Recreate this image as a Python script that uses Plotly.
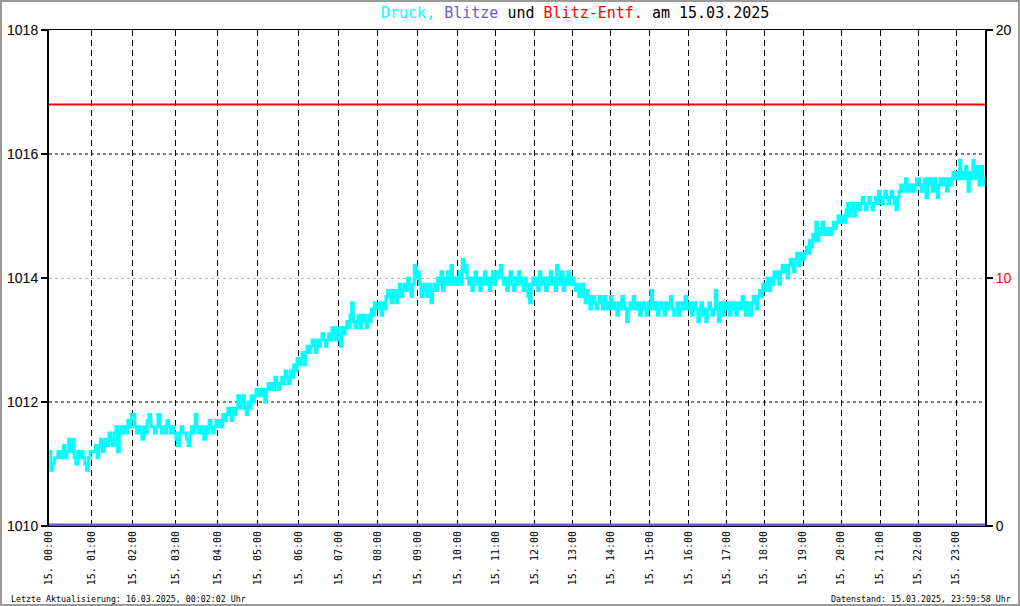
import plotly.graph_objects as go

# ---------------- data ----------------
# number of logged samples in each hour (the x axis is the sample index)
samples_per_hour = [43, 41, 43, 42, 40, 41, 40, 39, 40, 40, 38, 39,
                    38, 38, 39, 39, 38, 38, 39, 38, 39, 38, 38, 29]
hour_labels = ["15. %02d:00" % h for h in range(24)]

# pressure (hPa), 24 readings per hour
druck = [
    [1011.2, 1010.9, 1011.0, 1011.1, 1011.1, 1011.2, 1011.1, 1011.1, 1011.3, 1011.1, 1011.2, 1011.4, 1011.2, 1011.4, 1011.1, 1011.0, 1011.2, 1011.1, 1011.2, 1011.1, 1011.0, 1010.9, 1011.1, 1011.2],
    [1011.2, 1011.2, 1011.3, 1011.1, 1011.3, 1011.4, 1011.2, 1011.3, 1011.4, 1011.3, 1011.5, 1011.4, 1011.3, 1011.5, 1011.6, 1011.2, 1011.5, 1011.6, 1011.5, 1011.6, 1011.5, 1011.7, 1011.6, 1011.8],
    [1011.8, 1011.6, 1011.5, 1011.6, 1011.5, 1011.4, 1011.6, 1011.5, 1011.7, 1011.8, 1011.6, 1011.6, 1011.5, 1011.6, 1011.8, 1011.6, 1011.5, 1011.6, 1011.5, 1011.7, 1011.6, 1011.5, 1011.6, 1011.5],
    [1011.4, 1011.3, 1011.5, 1011.6, 1011.5, 1011.5, 1011.4, 1011.3, 1011.5, 1011.6, 1011.5, 1011.8, 1011.6, 1011.5, 1011.6, 1011.5, 1011.4, 1011.6, 1011.5, 1011.7, 1011.6, 1011.5, 1011.6, 1011.7],
    [1011.6, 1011.7, 1011.6, 1011.8, 1011.7, 1011.8, 1011.9, 1011.8, 1011.7, 1011.9, 1011.8, 1011.9, 1012.1, 1011.9, 1012.0, 1012.1, 1011.9, 1011.8, 1012.0, 1011.9, 1012.1, 1012.0, 1012.1, 1012.2],
    [1012.1, 1012.2, 1012.1, 1012.2, 1012.0, 1012.2, 1012.3, 1012.2, 1012.3, 1012.2, 1012.4, 1012.3, 1012.2, 1012.3, 1012.4, 1012.3, 1012.5, 1012.4, 1012.3, 1012.5, 1012.4, 1012.6, 1012.5, 1012.7],
    [1012.6, 1012.7, 1012.8, 1012.6, 1012.8, 1012.9, 1012.8, 1012.9, 1013.0, 1012.9, 1012.8, 1013.0, 1012.9, 1013.0, 1013.1, 1013.0, 1012.9, 1013.0, 1013.1, 1013.0, 1013.2, 1013.1, 1013.0, 1013.2],
    [1013.1, 1012.9, 1013.2, 1013.1, 1013.2, 1013.3, 1013.2, 1013.4, 1013.6, 1013.3, 1013.2, 1013.3, 1013.4, 1013.2, 1013.3, 1013.4, 1013.3, 1013.2, 1013.4, 1013.3, 1013.5, 1013.4, 1013.6, 1013.5],
    [1013.5, 1013.6, 1013.4, 1013.6, 1013.5, 1013.7, 1013.8, 1013.7, 1013.6, 1013.8, 1013.7, 1013.6, 1013.8, 1013.9, 1013.7, 1013.8, 1013.9, 1013.8, 1014.0, 1013.9, 1013.7, 1013.9, 1014.2, 1014.0],
    [1014.1, 1013.9, 1013.7, 1013.8, 1013.9, 1013.7, 1013.8, 1013.9, 1013.6, 1013.8, 1013.9, 1013.8, 1014.0, 1013.9, 1014.1, 1013.8, 1014.0, 1013.9, 1014.1, 1013.9, 1014.2, 1013.9, 1014.0, 1013.9],
    [1014.0, 1014.1, 1013.9, 1014.3, 1014.1, 1014.2, 1014.0, 1013.9, 1014.0, 1013.8, 1014.0, 1014.1, 1013.9, 1014.0, 1013.8, 1014.0, 1013.9, 1014.1, 1013.9, 1014.0, 1013.8, 1014.0, 1014.1, 1013.9],
    [1014.1, 1014.0, 1014.1, 1014.2, 1014.0, 1013.9, 1014.0, 1013.8, 1014.0, 1014.1, 1013.9, 1013.8, 1014.0, 1013.9, 1014.1, 1014.0, 1013.9, 1013.8, 1014.0, 1013.9, 1013.7, 1013.6, 1013.9, 1014.0],
    [1013.9, 1014.0, 1013.8, 1014.1, 1013.9, 1014.0, 1013.9, 1013.8, 1014.0, 1013.9, 1014.1, 1013.9, 1014.0, 1013.8, 1014.2, 1014.0, 1013.9, 1014.1, 1013.8, 1014.0, 1013.9, 1014.1, 1014.0, 1013.9],
    [1014.0, 1013.9, 1013.8, 1013.9, 1013.7, 1013.8, 1013.9, 1013.7, 1013.6, 1013.8, 1013.7, 1013.5, 1013.6, 1013.7, 1013.6, 1013.5, 1013.6, 1013.7, 1013.6, 1013.5, 1013.7, 1013.6, 1013.5, 1013.6],
    [1013.7, 1013.5, 1013.6, 1013.5, 1013.4, 1013.6, 1013.5, 1013.7, 1013.6, 1013.5, 1013.3, 1013.5, 1013.6, 1013.5, 1013.7, 1013.6, 1013.5, 1013.6, 1013.4, 1013.5, 1013.6, 1013.5, 1013.4, 1013.6],
    [1013.5, 1013.8, 1013.6, 1013.5, 1013.6, 1013.4, 1013.5, 1013.6, 1013.5, 1013.4, 1013.6, 1013.5, 1013.6, 1013.7, 1013.5, 1013.4, 1013.5, 1013.6, 1013.4, 1013.5, 1013.6, 1013.5, 1013.7, 1013.5],
    [1013.5, 1013.6, 1013.4, 1013.5, 1013.6, 1013.5, 1013.3, 1013.5, 1013.6, 1013.4, 1013.5, 1013.3, 1013.5, 1013.6, 1013.5, 1013.4, 1013.5, 1013.8, 1013.5, 1013.3, 1013.6, 1013.5, 1013.4, 1013.6],
    [1013.5, 1013.6, 1013.4, 1013.6, 1013.5, 1013.6, 1013.4, 1013.5, 1013.6, 1013.5, 1013.7, 1013.6, 1013.4, 1013.6, 1013.5, 1013.4, 1013.6, 1013.7, 1013.6, 1013.5, 1013.7, 1013.8, 1013.7, 1013.9],
    [1013.8, 1013.9, 1014.0, 1013.8, 1014.0, 1013.9, 1014.1, 1014.0, 1014.1, 1013.9, 1014.1, 1014.2, 1014.1, 1014.2, 1014.0, 1014.2, 1014.3, 1014.2, 1014.1, 1014.3, 1014.4, 1014.2, 1014.3, 1014.4],
    [1014.3, 1014.4, 1014.5, 1014.4, 1014.6, 1014.5, 1014.7, 1014.6, 1014.9, 1014.6, 1014.7, 1014.8, 1014.9, 1014.7, 1014.8, 1014.7, 1014.8, 1014.7, 1014.8, 1014.9, 1014.8, 1014.9, 1015.0, 1014.9],
    [1014.9, 1015.0, 1014.9, 1015.1, 1015.2, 1015.0, 1015.1, 1015.2, 1015.0, 1015.1, 1015.2, 1015.1, 1015.2, 1015.3, 1015.2, 1015.1, 1015.2, 1015.3, 1015.2, 1015.1, 1015.2, 1015.3, 1015.2, 1015.4],
    [1015.3, 1015.2, 1015.3, 1015.4, 1015.3, 1015.2, 1015.3, 1015.4, 1015.3, 1015.2, 1015.1, 1015.3, 1015.4, 1015.5, 1015.4, 1015.5, 1015.6, 1015.4, 1015.5, 1015.4, 1015.5, 1015.4, 1015.5, 1015.6],
    [1015.6, 1015.5, 1015.4, 1015.5, 1015.6, 1015.3, 1015.5, 1015.6, 1015.5, 1015.4, 1015.6, 1015.5, 1015.3, 1015.5, 1015.6, 1015.5, 1015.6, 1015.5, 1015.4, 1015.6, 1015.5, 1015.6, 1015.7, 1015.6],
    [1015.7, 1015.6, 1015.7, 1015.9, 1015.6, 1015.7, 1015.6, 1015.7, 1015.8, 1015.6, 1015.4, 1015.7, 1015.6, 1015.7, 1015.9, 1015.7, 1015.6, 1015.8, 1015.6, 1015.5, 1015.7, 1015.8, 1015.6, 1015.5],
]
blitze = [0, 0]          # lightning count
blitz_entf = [17, 17]    # lightning distance (km)

left_ticks = [1010, 1012, 1014, 1016, 1018]
left_grid = [1012, 1016]
right_ticks = [0, 10, 20]
right_ticktext = ["0", "<span style='color:red'>10</span>", "20"]

# ---------------- build ----------------
hour_start = [0]
for n in samples_per_hour:
    hour_start.append(hour_start[-1] + n)
total = hour_start[-1]

xs, ys = [], []
for h, vals in enumerate(druck):
    n = len(vals)
    for k, v in enumerate(vals):
        xs.append(hour_start[h] + k * samples_per_hour[h] / n)
        ys.append(v)
xs.append(total)
ys.append(druck[-1][-1])

fig = go.Figure()
fig.add_trace(go.Scatter(x=[0, total], y=blitz_entf, yaxis="y2", mode="lines",
                         line=dict(color="#ff0000", width=2), hoverinfo="skip"))
fig.add_trace(go.Scatter(x=xs, y=ys, mode="lines", line_shape="hv",
                         line=dict(color="#00ffff", width=3), hoverinfo="skip"))
fig.add_trace(go.Scatter(x=[0, total], y=blitze, yaxis="y2", mode="lines",
                         line=dict(color="#6a5acd", width=5), hoverinfo="skip"))

L, R, T, B = 49, 35, 30, 80
W, H = 1020, 606
pw, ph = W - L - R, H - T - B

shapes = []
for g in left_grid:
    shapes.append(dict(type="line", xref="paper", x0=0, x1=1, yref="y", y0=g, y1=g,
                       line=dict(color="black", width=1, dash="3px,3px"), layer="below"))
# outer frame
shapes.append(dict(type="rect", xref="paper", yref="paper",
                   x0=(1 - L) / pw, x1=(W - 1 - L) / pw,
                   y0=-(H - 1 - T - ph) / ph, y1=(ph + T - 1) / ph,
                   line=dict(color="#9a9a9a", width=2)))

title = ("<span style='color:#00ffff'>Druck,</span> "
         "<span style='color:#6a5acd'>Blitze</span> und "
         "<span style='color:#ff0000'>Blitz-Entf.</span> am 15.03.2025")

annotations = [
    dict(text=title, xref="paper", yref="paper", x=(575 - L) / pw, y=1 + (T - 13) / ph,
         xanchor="center", yanchor="middle", showarrow=False,
         font=dict(family="DejaVu Sans Mono", size=15, color="black")),
    dict(text="Letzte Aktualisierung: 16.03.2025, 00:02:02 Uhr", xref="paper", yref="paper",
         x=(9 - L) / pw, y=-(599 - T - ph) / ph, xanchor="left", yanchor="middle",
         showarrow=False, font=dict(family="DejaVu Sans Mono", size=8.3, color="black")),
    dict(text="Datenstand: 15.03.2025, 23:59:58 Uhr", xref="paper", yref="paper",
         x=(1013 - L) / pw, y=-(599 - T - ph) / ph, xanchor="right", yanchor="middle",
         showarrow=False, font=dict(family="DejaVu Sans Mono", size=8.3, color="black")),
]

fig.update_layout(
    template="none",
    width=W, height=H,
    margin=dict(l=L, r=R, t=T, b=B, pad=0, autoexpand=False),
    paper_bgcolor="white", plot_bgcolor="white",
    showlegend=False,
    shapes=shapes, annotations=annotations,
    xaxis=dict(range=[0, total], tickvals=hour_start[:-1], ticktext=hour_labels,
               tickangle=-90, ticks="", showgrid=True, gridcolor="black", gridwidth=1,
               griddash="6px,4px", showline=True, linecolor="black", linewidth=1,
               mirror=True, zeroline=False, automargin=False,
               tickfont=dict(family="DejaVu Sans Mono", size=10, color="black")),
    yaxis=dict(range=[1010, 1018], tickvals=left_ticks, ticks="outside", ticklen=6,
               tickcolor="black", tickwidth=2, showgrid=False, zeroline=False,
               showline=True, linecolor="black", linewidth=2, automargin=False,
               tickfont=dict(family="Liberation Sans", size=14, color="black")),
    yaxis2=dict(range=[0, 20], overlaying="y", side="right", tickvals=right_ticks,
                ticktext=right_ticktext, ticks="outside", ticklen=6, tickcolor="black",
                tickwidth=2, showgrid=True, gridcolor="#bbbbbb", griddash="3px,3px",
                gridwidth=1, zeroline=False, showline=True, linecolor="black", linewidth=2,
                automargin=False,
                tickfont=dict(family="Liberation Sans", size=14, color="black")),
)

fig.write_html("out.html", config={"displayModeBar": False},
               post_script="document.body.style.margin='0';document.body.style.padding='0';")
